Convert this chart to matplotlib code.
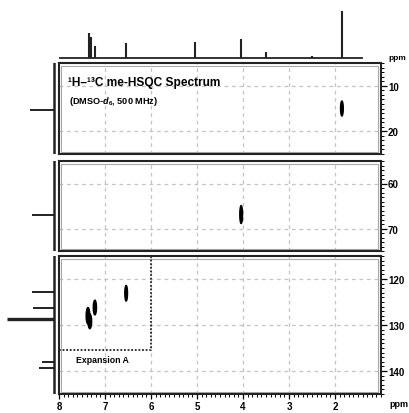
import matplotlib
matplotlib.use('Agg')
import matplotlib.pyplot as plt
from matplotlib.patches import Ellipse, Rectangle
from matplotlib.ticker import MultipleLocator

plt.rcParams['font.family'] = ['Liberation Sans', 'DejaVu Sans']
plt.rcParams['font.weight'] = 'bold'
plt.rcParams['mathtext.fontset'] = 'custom'
plt.rcParams['mathtext.rm'] = 'Liberation Sans:bold'
plt.rcParams['mathtext.it'] = 'Liberation Sans:italic:bold'
plt.rcParams['mathtext.bf'] = 'Liberation Sans:bold'

# ---------------- data ----------------
# 1H projection (top)
h1_shifts = [7.35, 7.31, 7.22, 6.54, 5.04, 4.04, 3.50, 2.50, 1.85]
h1_heights = [25, 21, 12, 15, 16, 19, 6, 2, 47]
# 13C projection (left)
c13_shifts = [15.3, 66.9, 122.9, 126.2, 128.7, 138.0, 139.3]
c13_heights = [24, 22, 22, 21, 47, 12, 15]
c13_widths = [1.4, 1.4, 1.4, 1.4, 2.4, 1.4, 1.4]
# cross peaks: 1H, 13C, width (ppm), height (ppm)
peak_h = [1.85, 4.04, 7.37, 7.33, 7.22, 6.54]
peak_c = [15.0, 66.9, 128.0, 129.2, 126.2, 123.1]
peak_w = [0.06, 0.06, 0.08, 0.08, 0.07, 0.06]
peak_hh = [3.3, 4.0, 3.6, 3.2, 3.2, 3.4]

panel_ranges = [(5, 25), (55, 75), (115, 145)]
panel_ticks = [[10, 20], [60, 70], [120, 130, 140]]
x_ticks = [8, 7, 6, 5, 4, 3, 2]
x_grid = [7, 6, 5, 4, 3, 2]
expansion_x = [8, 6]
expansion_c = [115, 135.5]

# ---------------- layout ----------------
W, H = 410, 414
fig = plt.figure(figsize=(W / 100, H / 100), dpi=100)


def fx(px):
    return px / W


def fy(py):
    return 1 - py / H


XL, XR = 59, 381
panel_px = [(64, 155), (162, 252), (257, 395)]
GRID_C = '#c4c4c4'

axes = []
for i, ((top, bot), (lo, hi), ticks) in enumerate(zip(panel_px, panel_ranges, panel_ticks)):
    ax = fig.add_axes([fx(XL), fy(bot), fx(XR - XL), (bot - top) / H])
    ax.set_xlim(8, 1)
    ax.set_ylim(hi, lo)
    for xv in x_grid:
        ax.axvline(xv, color=GRID_C, ls=(0, (3, 3)), lw=0.9, zorder=0)
    for yv in ticks:
        ax.axhline(yv, color=GRID_C, ls=(0, (3, 3)), lw=0.9, zorder=0)
    ax.yaxis.tick_right()
    ax.set_yticks(ticks)
    ax.yaxis.set_minor_locator(MultipleLocator(1))
    ax.tick_params(axis='y', which='major', direction='out', length=4, width=0.9,
                   labelsize=7, pad=1)
    ax.tick_params(axis='y', which='minor', direction='out', length=2, width=0.7)
    if i == 2:
        ax.set_xticks(x_ticks)
        ax.xaxis.set_minor_locator(MultipleLocator(0.1))
        ax.tick_params(axis='x', which='major', direction='out', length=3.5, width=0.9,
                       labelsize=7, pad=1.5)
        ax.tick_params(axis='x', which='minor', direction='out', length=2, width=0.7)
    else:
        ax.set_xticks([])
        ax.tick_params(axis='x', which='both', bottom=False, labelbottom=False)
    for sp in ax.spines.values():
        sp.set_linewidth(1.5)
        sp.set_color('#222222')
    wpx, hpx = XR - XL, bot - top
    dx, dy = 2.5 / wpx, 2.5 / hpx
    ax.add_patch(Rectangle((dx, dy), 1 - 2 * dx, 1 - 2 * dy, transform=ax.transAxes,
                           fill=False, ec='#a8a8a8', lw=0.8, zorder=1))
    axes.append(ax)

    # left 13C projection
    axl = fig.add_axes([0, fy(bot), fx(56), (bot - top) / H])
    axl.set_xlim(54, -2)
    axl.set_ylim(hi, lo)
    axl.axis('off')
    axl.axvline(0, color='#222222', lw=1.8)
    for s, h, w in zip(c13_shifts, c13_heights, c13_widths):
        if lo < s < hi:
            axl.plot([0, h], [s, s], color='#222222', lw=w, solid_capstyle='butt')

# cross peaks
for x, c, w, hh in zip(peak_h, peak_c, peak_w, peak_hh):
    for ax, (lo, hi) in zip(axes, panel_ranges):
        if lo < c < hi:
            ax.add_patch(Ellipse((x, c), w, hh, color='black', zorder=3))

# expansion box
ax3 = axes[2]
ax3.plot([expansion_x[0], expansion_x[1], expansion_x[1]],
         [expansion_c[1], expansion_c[1], expansion_c[0]],
         color='#222222', ls=(0, (1, 1)), lw=1.3, zorder=2)
ax3.text(7.05, 137.6, 'Expansion A', fontsize=6.3, ha='center', va='center')

# titles
fig.text(fx(68), fy(83), '¹H–¹³C me-HSQC Spectrum', fontsize=8.6, va='center')
fig.text(fx(69), fy(102), '(DMSO-$d_6$, 500 MHz)', fontsize=6.6, va='center')

# top 1H projection
axt = fig.add_axes([fx(XL), fy(62), fx(XR - XL), 57 / H])
axt.set_xlim(8, 1)
axt.set_ylim(-3, 54)
axt.axis('off')
axt.plot([8.0, 1.42], [0, 0], color='#222222', lw=1.3)
axt.vlines(h1_shifts, 0, h1_heights, color='#222222', lw=1.5)

fig.text(fx(388), fy(59), 'ppm', fontsize=6, va='center')
fig.text(fx(389), fy(405), 'ppm', fontsize=6.5, va='center')

fig.savefig('out.png', dpi=100)
